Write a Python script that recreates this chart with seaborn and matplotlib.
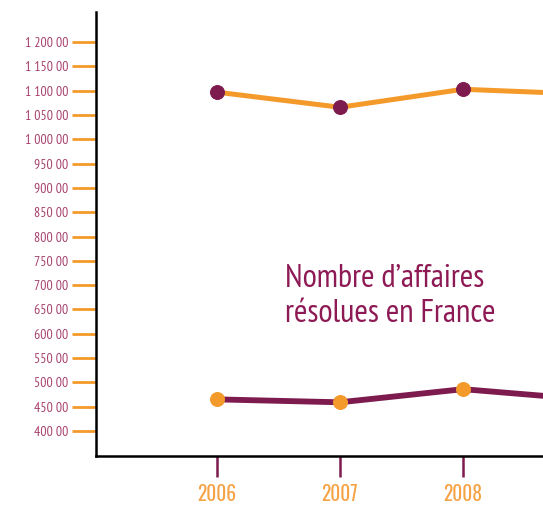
import matplotlib
matplotlib.use("Agg")
import matplotlib.pyplot as plt
import seaborn as sns
import pandas as pd

years = [2006, 2007, 2008, 2009]
affaires_orange = [1097, 1066, 1103, 1093]
affaires_violet = [465, 459, 486, 465]
y_ticks = list(range(400, 1201, 50))
y_tick_labels = ["1 200 00", "1 150 00", "1 100 00", "1 050 00", "1 000 00",
                 "950 00", "900 00", "850 00", "800 00", "750 00", "700 00",
                 "650 00", "600 00", "550 00", "500 00", "450 00", "400 00"][::-1]
x_ticks = [2006, 2007, 2008]
label_text = "Nombre d\u2019affaires\nrésolues en France"

ORANGE = "#f39a2b"
PURPLE = "#7d1a4e"
sns.set_style("white")
plt.rcParams['font.family'] = ['PT Sans Narrow', 'DejaVu Sans']

df = pd.DataFrame({"annee": years, "a": affaires_orange, "b": affaires_violet})

fig = plt.figure(figsize=(5.43, 5.05), dpi=100)
ax = fig.add_axes([96 / 543, 1 - 456 / 505, 1 - 96 / 543, (456 - 12) / 505])

sns.lineplot(data=df, x="annee", y="a", ax=ax, color=ORANGE, linewidth=3.6,
             marker="o", markersize=10, markerfacecolor=PURPLE,
             markeredgecolor=PURPLE)
sns.lineplot(data=df, x="annee", y="b", ax=ax, color=PURPLE, linewidth=4.2,
             marker="o", markersize=10, markerfacecolor=ORANGE,
             markeredgecolor=ORANGE)

ax.set_xlim(2005.016, 2008.65)
ax.set_ylim(348.5, 1262)
ax.set_yticks(y_ticks)
ax.set_yticklabels(y_tick_labels)
ax.set_xticks(x_ticks)
ax.set_xticklabels([str(y) for y in x_ticks])
ax.set_xlabel("")
ax.set_ylabel("")

for s in ["top", "right"]:
    ax.spines[s].set_visible(False)
for s in ["left", "bottom"]:
    ax.spines[s].set_color("black")
    ax.spines[s].set_linewidth(1.8)

ax.tick_params(axis="y", direction="out", length=17, width=2, color=ORANGE,
               labelcolor="#a8426e", labelsize=10, pad=3, left=True)
ax.tick_params(axis="x", direction="out", length=15, width=1.8, color=PURPLE,
               labelcolor="#f5a245", labelsize=14, pad=5, bottom=True)
for t in ax.get_xticklabels():
    t.set_family(['Oswald', 'DejaVu Sans'])
    t.set_fontweight("semibold")

ax.text(2006.55, 676, label_text, color="#8e1a55", fontsize=23.5,
        ha="left", va="center", linespacing=1.22)

fig.savefig("out.png", dpi=100)
